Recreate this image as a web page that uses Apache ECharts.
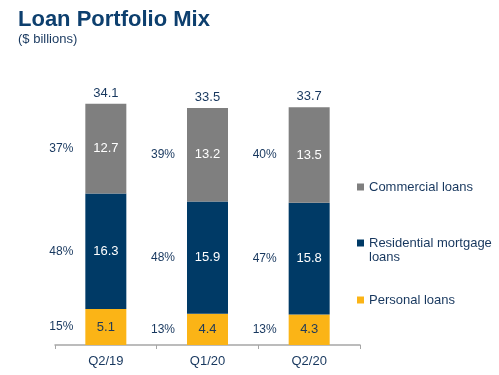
<!DOCTYPE html>
<html>
<head>
<meta charset="utf-8">
<script src="https://cdn.jsdelivr.net/npm/echarts@6/dist/echarts.min.js"></script>
<style>
  html, body { margin: 0; padding: 0; background: #fff; }
  #chart { width: 499px; height: 375px; }
</style>
</head>
<body>
<div id="chart"></div>
<script>
// 数据
const quarters = ['Q2/19', 'Q1/20', 'Q2/20']
const personal = [5.1, 4.4, 4.3]
const residential = [16.3, 15.9, 15.8]
const commercial = [12.7, 13.2, 13.5]
const totals = [34.1, 33.5, 33.7]
const personalPct = ['15%', '13%', '13%']
const residentialPct = ['48%', '48%', '47%']
const commercialPct = ['37%', '39%', '40%']

const navyText = '#17375e'
const font = 'Liberation Sans, Arial, sans-serif'

const pctLabel = (arr) => ({
  show: true,
  position: 'left',
  distance: 12,
  color: navyText,
  fontSize: 12,
  fontFamily: font,
  formatter: (p) => arr[p.dataIndex],
})

// 每段：中间数值 + 左侧百分比（透明的第二个堆叠负责百分比）
const makeSeries = (name, data, color, textColor, pctArr) => [
  {
    name: name,
    type: 'bar',
    stack: 'loans',
    barWidth: 41,
    barGap: '-100%',
    itemStyle: { color: color },
    label: {
      show: true,
      position: 'inside',
      color: textColor,
      fontSize: 13,
      fontFamily: font,
    },
    data: data,
  },
  {
    name: name + '_pct',
    type: 'bar',
    stack: 'pct',
    barWidth: 41,
    barGap: '-100%',
    silent: true,
    itemStyle: { color: 'transparent' },
    label: pctLabel(pctArr),
    data: data,
  },
]

const legendBase = {
  orient: 'vertical',
  left: 357,
  padding: 0,
  icon: 'rect',
  itemWidth: 7,
  itemHeight: 7,
  textStyle: { color: navyText, fontSize: 13, fontFamily: font, lineHeight: 14 },
}

const option = {
  animation: false,
  title: {
    text: 'Loan Portfolio Mix',
    subtext: '($ billions)',
    left: 13,
    top: 4,
    itemGap: 2,
    textStyle: { color: '#0d3f6e', fontSize: 22, fontWeight: 'bold', fontFamily: font },
    subtextStyle: { color: navyText, fontSize: 13, fontFamily: font },
  },
  legend: [
    Object.assign({}, legendBase, { top: 180, data: ['Commercial loans'] }),
    Object.assign({}, legendBase, {
      top: 222,
      data: ['Residential mortgage loans'],
      // 空的第一行让图标对齐到第一行文字
      formatter: () => ' \nResidential mortgage\nloans',
    }),
    Object.assign({}, legendBase, { top: 293, data: ['Personal loans'] }),
  ],
  grid: { left: 55, right: 139, top: 62, bottom: 30 },
  xAxis: {
    type: 'category',
    data: quarters,
    axisLine: { lineStyle: { color: '#a6a6a6', width: 1.5 } },
    axisTick: { show: true, length: 4, lineStyle: { color: '#a6a6a6' } },
    axisLabel: { color: navyText, fontSize: 13, fontFamily: font, margin: 10 },
  },
  yAxis: {
    type: 'value',
    min: 0,
    max: 40,
    show: false,
  },
  series: [
    ...makeSeries('Personal loans', personal, '#fbb416', '#1f3a5a', personalPct),
    ...makeSeries('Residential mortgage loans', residential, '#003a66', '#ffffff', residentialPct),
    ...makeSeries('Commercial loans', commercial, '#7f7f7f', '#ffffff', commercialPct),
    {
      name: 'total',
      type: 'bar',
      barWidth: 41,
      barGap: '-100%',
      silent: true,
      itemStyle: { color: 'transparent' },
      label: {
        show: true,
        position: 'top',
        distance: 4,
        color: navyText,
        fontSize: 13,
        fontFamily: font,
      },
      data: totals,
    },
  ],
}

const myChart = echarts.init(document.getElementById('chart'))
myChart.setOption(option)
</script>
</body>
</html>
